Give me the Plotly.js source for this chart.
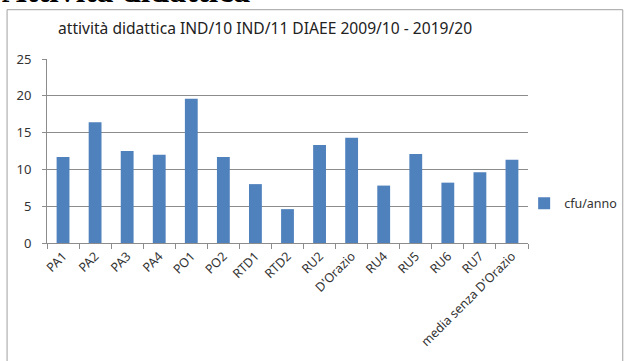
<!DOCTYPE html>
<html>
<head>
<meta charset="utf-8">
<script src="https://cdn.plot.ly/plotly-3.0.1.min.js"></script>
<style>html,body{margin:0;padding:0;background:#fff;overflow:hidden}#chart{width:627px;height:361px}</style>
</head>
<body>
<div id="chart"></div>
<script>
const categories = ["PA1","PA2","PA3","PA4","PO1","PO2","RTD1","RTD2","RU2","D'Orazio","RU4","RU5","RU6","RU7","media senza D'Orazio"];
const cfuAnno = [11.7, 16.4, 12.5, 12.0, 19.6, 11.7, 8.0, 4.6, 13.3, 14.3, 7.8, 12.1, 8.2, 9.6, 11.3];
const seriesName = "cfu/anno";
const chartTitle = "attività didattica IND/10 IND/11 DIAEE 2009/10 - 2019/20";
const pageHeading = "Attività didattica";
const yTicks = [0, 5, 10, 15, 20, 25];

const font = "Noto Sans, Open Sans, sans-serif";
const trace = {
  type: "bar",
  x: categories,
  y: cfuAnno,
  name: seriesName,
  marker: {color: "#4F81BD"},
  showlegend: true
};
const layout = {
  width: 627, height: 361,
  margin: {l: 47, r: 99, t: 59, b: 118, pad: 0, autoexpand: false},
  paper_bgcolor: "#fff", plot_bgcolor: "#fff",
  bargap: 0.6,
  font: {family: font, size: 13, color: "#333"},
  xaxis: {
    type: "category",
    tickangle: -45,
    tickson: "boundaries",
    ticks: "outside", ticklen: 5, tickcolor: "#8c8c8c",
    showline: true, linecolor: "#8c8c8c", linewidth: 1,
    showgrid: false, zeroline: false, automargin: false,
    tickfont: {family: font, size: 12.5, color: "#333"}
  },
  yaxis: {
    range: [0, 25],
    tickvals: yTicks,
    ticks: "outside", ticklen: 4, tickcolor: "#8c8c8c",
    ticklabelstandoff: 8,
    showline: true, linecolor: "#8c8c8c", linewidth: 1,
    showgrid: true, gridcolor: "#8c8c8c", gridwidth: 1,
    zeroline: false, automargin: false,
    tickfont: {family: font, size: 13, color: "#333"}
  },
  legend: {
    x: 0.992, xanchor: "left", y: 0.214, yanchor: "middle",
    itemwidth: 30, font: {family: font, size: 12.5, color: "#333"},
    bgcolor: "rgba(0,0,0,0)"
  },
  shapes: [{
    type: "rect", xref: "paper", yref: "paper",
    x0: -0.083, x1: 1.197, y0: -0.8, y1: 1.268,
    line: {color: "#a0a0a0", width: 1}, fillcolor: "rgba(0,0,0,0)", layer: "below"
  }],
  annotations: [
    {text: chartTitle, xref: "paper", yref: "paper", x: 0.453, y: 1.170,
     xanchor: "center", yanchor: "middle", showarrow: false,
     font: {family: font, size: 15.6, color: "#222"}},
    {text: "<b>" + pageHeading + "</b>", xref: "paper", yref: "paper", x: -0.0977, y: 1.262,
     xanchor: "left", yanchor: "bottom", showarrow: false,
     font: {family: "Liberation Serif, serif", size: 34, color: "#000"}}
  ]
};
Plotly.newPlot("chart", [trace], layout, {staticPlot: true, displayModeBar: false});
</script>
</body>
</html>
